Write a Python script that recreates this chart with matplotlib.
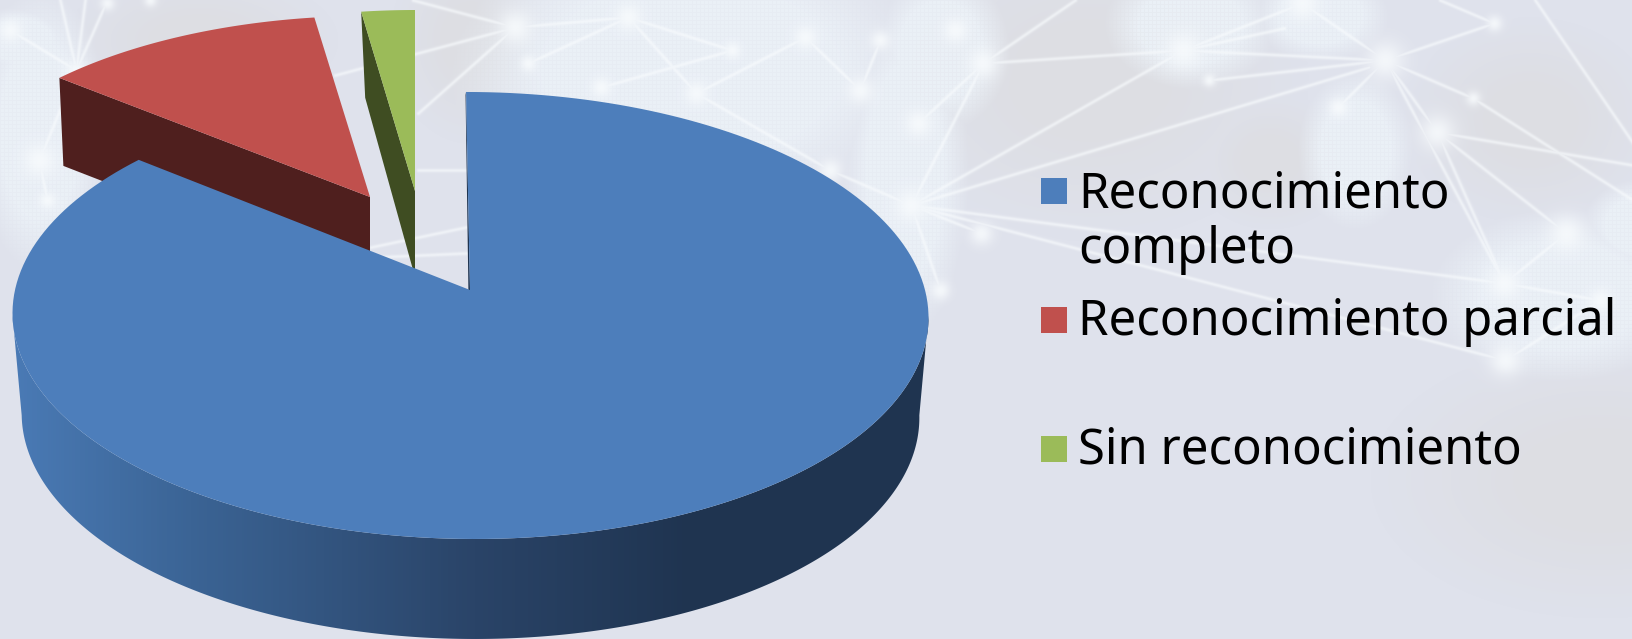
import numpy as np
import matplotlib
matplotlib.use("Agg")
import matplotlib.pyplot as plt
from matplotlib.colors import LinearSegmentedColormap, to_rgb
from matplotlib.patches import Polygon, Rectangle

plt.rcParams["font.family"] = ["Noto Sans", "DejaVu Sans"]

W, H = 1633, 639

# chart data
labels = ["Reconocimiento\ncompleto", "Reconocimiento parcial", "Sin reconocimiento"]
values = [85.9, 11.8, 2.3]

top_colors = ["#4d7ebb", "#c0504d", "#9bbb59"]
side_colors = ["#1f3450", "#4f1f1e", "#3f4d22"]

# pie projection, in pixels (wedge apex, scale, shear)
apex_x = [470, 370, 415]
apex_y = [290, 197, 191]
scale_x = [1.0, 0.945, 0.914]
scale_y = [1.0, 0.915, 0.914]
shear = [0.02, 0.0, 0.0]
depth = [100, 88, 86]
PERSP = 0.114
RX, RY = 455, 220.6

# background decoration: light land patches, network nodes (x, y, radius) and links
land = [(690, 70, 210, 125), (905, 170, 55, 150), (940, 50, 60, 70), (1190, 25, 75, 55),
        (1355, 150, 50, 70), (1320, 15, 60, 40), (1560, 295, 115, 75), (1640, 225, 50, 40),
        (40, 130, 58, 125), (20, 40, 45, 30)]
grey_patches = [(1090, 80, 190, 140), (470, 40, 70, 90), (1530, 120, 110, 90),
                (1600, 480, 200, 120), (200, 40, 120, 60), (1270, 160, 70, 60)]
nodes = [(911, 205, 20), (1183, 50, 22), (1385, 60, 24), (983, 63, 18), (955, 30, 15),
         (1494, 23, 10), (1302, 3, 20), (1437, 132, 22), (1566, 233, 22), (1504, 283, 20),
         (1338, 107, 12), (981, 233, 15), (918, 123, 16), (1473, 98, 9), (1209, 80, 8),
         (515, 27, 20), (39, 160, 20), (76, 70, 13), (628, 17, 16),
         (696, 93, 14), (601, 87, 12), (732, 50, 10), (528, 63, 10), (805, 37, 14),
         (10, 30, 14), (47, 200, 10), (107, 3, 9), (1505, 360, 20), (1600, 300, 14),
         (860, 90, 16), (880, 40, 12), (940, 290, 12), (150, 0, 8), (830, 170, 14)]
links = [(911, 205, 1183, 50), (911, 205, 1369, 67), (911, 205, 1504, 283), (911, 205, 1505, 360),
         (911, 205, 981, 233), (911, 205, 983, 63), (983, 63, 1183, 50), (983, 63, 1075, 0),
         (1183, 50, 1302, 3), (1183, 50, 1284, 28), (1209, 80, 1385, 60), (1183, 50, 1385, 60),
         (1385, 60, 1494, 23), (1385, 60, 1302, 3), (1385, 60, 1437, 132), (1385, 60, 1473, 98),
         (1385, 60, 1504, 283), (1535, 0, 1633, 143), (1437, 132, 1633, 165), (1437, 132, 1566, 233),
         (1437, 132, 1504, 283), (1473, 98, 1633, 200), (1494, 23, 1440, 0), (1566, 233, 1504, 283),
         (515, 27, 335, 75), (515, 27, 418, 113), (413, 0, 515, 27), (418, 170, 466, 170),
         (371, 247, 466, 227), (376, 257, 466, 253), (76, 70, 60, 0), (76, 70, 85, 0), (76, 70, 107, 0),
         (76, 70, 10, 30), (515, 27, 628, 17), (628, 17, 696, 93), (696, 93, 805, 37), (601, 87, 732, 50),
         (39, 160, 76, 70), (39, 160, 47, 200), (805, 37, 860, 90), (696, 93, 830, 170), (628, 17, 528, 63),
         (860, 90, 880, 40), (830, 170, 911, 205), (732, 50, 628, 17), (1505, 360, 1600, 300),
         (1504, 283, 1600, 300), (911, 205, 940, 290), (918, 123, 983, 63), (1385, 60, 1338, 107)]


def project(theta, i, z=0.0, rx=RX):
    """Angle measured clockwise from the top of the pie, in radians."""
    u, v = np.sin(theta), np.cos(theta)
    d = 1 + PERSP * v
    x = apex_x[i] + rx * scale_x[i] * u / d
    y = apex_y[i] - RY * scale_y[i] * v / d
    x = x + shear[i] * (y - apex_y[i])
    return x, y + z


def soft_ellipse(xx, yy, cx, cy, rx, ry, edge=0.3):
    d = np.sqrt(((xx - cx) / rx) ** 2 + ((yy - cy) / ry) ** 2)
    return np.clip((1.15 - d) / edge, 0, 1)


def make_background():
    yy, xx = np.mgrid[0:H, 0:W].astype(float)
    img = np.ones((H, W, 3)) * np.array(to_rgb("#dfe2ec"))
    grey = np.zeros((H, W))
    for p in grey_patches:
        grey = np.maximum(grey, soft_ellipse(xx, yy, *p, edge=0.8))
    img = img + grey[..., None] * (np.array(to_rgb("#dddee3")) - img)

    # land is lighter, with a fine grid on it
    mask = np.zeros((H, W))
    for p in land:
        mask = np.maximum(mask, soft_ellipse(xx, yy, *p, edge=0.45))
    cells = 1.0 - 0.28 * ((xx % 4 < 1) | (yy % 4 < 1))
    img = img + (mask * cells)[..., None] * 0.9 * (np.array(to_rgb("#ecf2f8")) - img)

    # soft white links
    shine = np.zeros((H, W))
    for x0, y0, x1, y1 in links:
        dx, dy = x1 - x0, y1 - y0
        t = np.clip(((xx - x0) * dx + (yy - y0) * dy) / (dx * dx + dy * dy), 0, 1)
        dist2 = (xx - x0 - t * dx) ** 2 + (yy - y0 - t * dy) ** 2
        shine = np.maximum(shine, 0.62 * np.exp(-dist2 / (2.0 * 1.3 ** 2)))
    # glow round each node
    for nx, ny, r in nodes:
        shine = np.maximum(shine, 0.82 * np.exp(-((xx - nx) ** 2 + (yy - ny) ** 2) / (2.0 * (r * 0.55) ** 2)))
    img = img + shine[..., None] * (np.array(to_rgb("#f8fbfd")) - img)
    return img


fig = plt.figure(figsize=(W / 100, H / 100), dpi=100)
ax = fig.add_axes([0, 0, 1, 1])
ax.imshow(make_background(), extent=(0, W, H, 0), aspect="auto", interpolation="bilinear", zorder=0)

# slices: angles come from the values, clockwise from the top
fractions = np.array(values) / sum(values) * 2 * np.pi
starts = np.concatenate([[0], np.cumsum(fractions)[:-1]])

for i in [2, 1, 0]:
    theta = np.linspace(starts[i], starts[i] + fractions[i], 200)
    x, y = project(theta, i)
    cx, cy = apex_x[i], apex_y[i]
    dz = depth[i]
    if i == 0:
        # curved front wall with its horizontal shading
        t = np.radians(np.linspace(96.5, 263.5, 300))
        xt, yt = project(t, 0)
        xb, yb = project(t, 0, z=dz, rx=RX * 0.98)
        wall = Polygon(np.r_[np.c_[xt, yt], np.c_[xb, yb][::-1]], closed=True, fc="none", ec="none")
        ax.add_patch(wall)
        stops = [(0.0, "#4a7ab5"), (0.26, "#3b6495"), (0.68, "#2a4468"), (1.0, "#1f3450")]
        cmap = LinearSegmentedColormap.from_list("wall", stops)
        full = np.ones((1, W))
        full[0, :13] = 0
        full[0, 13:693] = np.linspace(0, 1, 680)
        im = ax.imshow(full, cmap=cmap, extent=(0, W, H, 0), aspect="auto", zorder=3)
        im.set_clip_path(wall)
        # radial wall just left of the cut
        ax.add_patch(Polygon([(x[0], y[0]), (cx, cy), (cx - 1.5, cy + 6), (x[0] - 0.5, y[0] + 3)],
                             closed=True, fc=side_colors[0], ec="none", zorder=3))
    else:
        # flat wall along the cut edge facing the viewer
        ax.add_patch(Polygon([(x[0], y[0]), (cx, cy), (cx, cy + dz), (x[0] + 4, y[0] + dz)],
                             closed=True, fc=side_colors[i], ec="none", zorder=2 + (2 - i)))
    ax.add_patch(Polygon(np.r_[[(cx, cy)], np.c_[x, y]], closed=True, fc=top_colors[i], ec="none",
                         zorder=4 if i == 0 else 3))

# legend, one swatch per slice
swatch_y = [178, 307, 436]
baseline_y = [263, 335, 464]
for lab, col, sy, by in zip(labels, top_colors, swatch_y, baseline_y):
    ax.add_patch(Rectangle((1041, sy), 26, 26, fc=col, ec="none", zorder=5))
    ax.text(1078, by, lab, fontsize=35.3, color="black", va="baseline", ha="left",
            linespacing=1.15, zorder=5)

ax.set_xlim(0, W)
ax.set_ylim(H, 0)
ax.axis("off")
fig.savefig("out.png", dpi=100)
